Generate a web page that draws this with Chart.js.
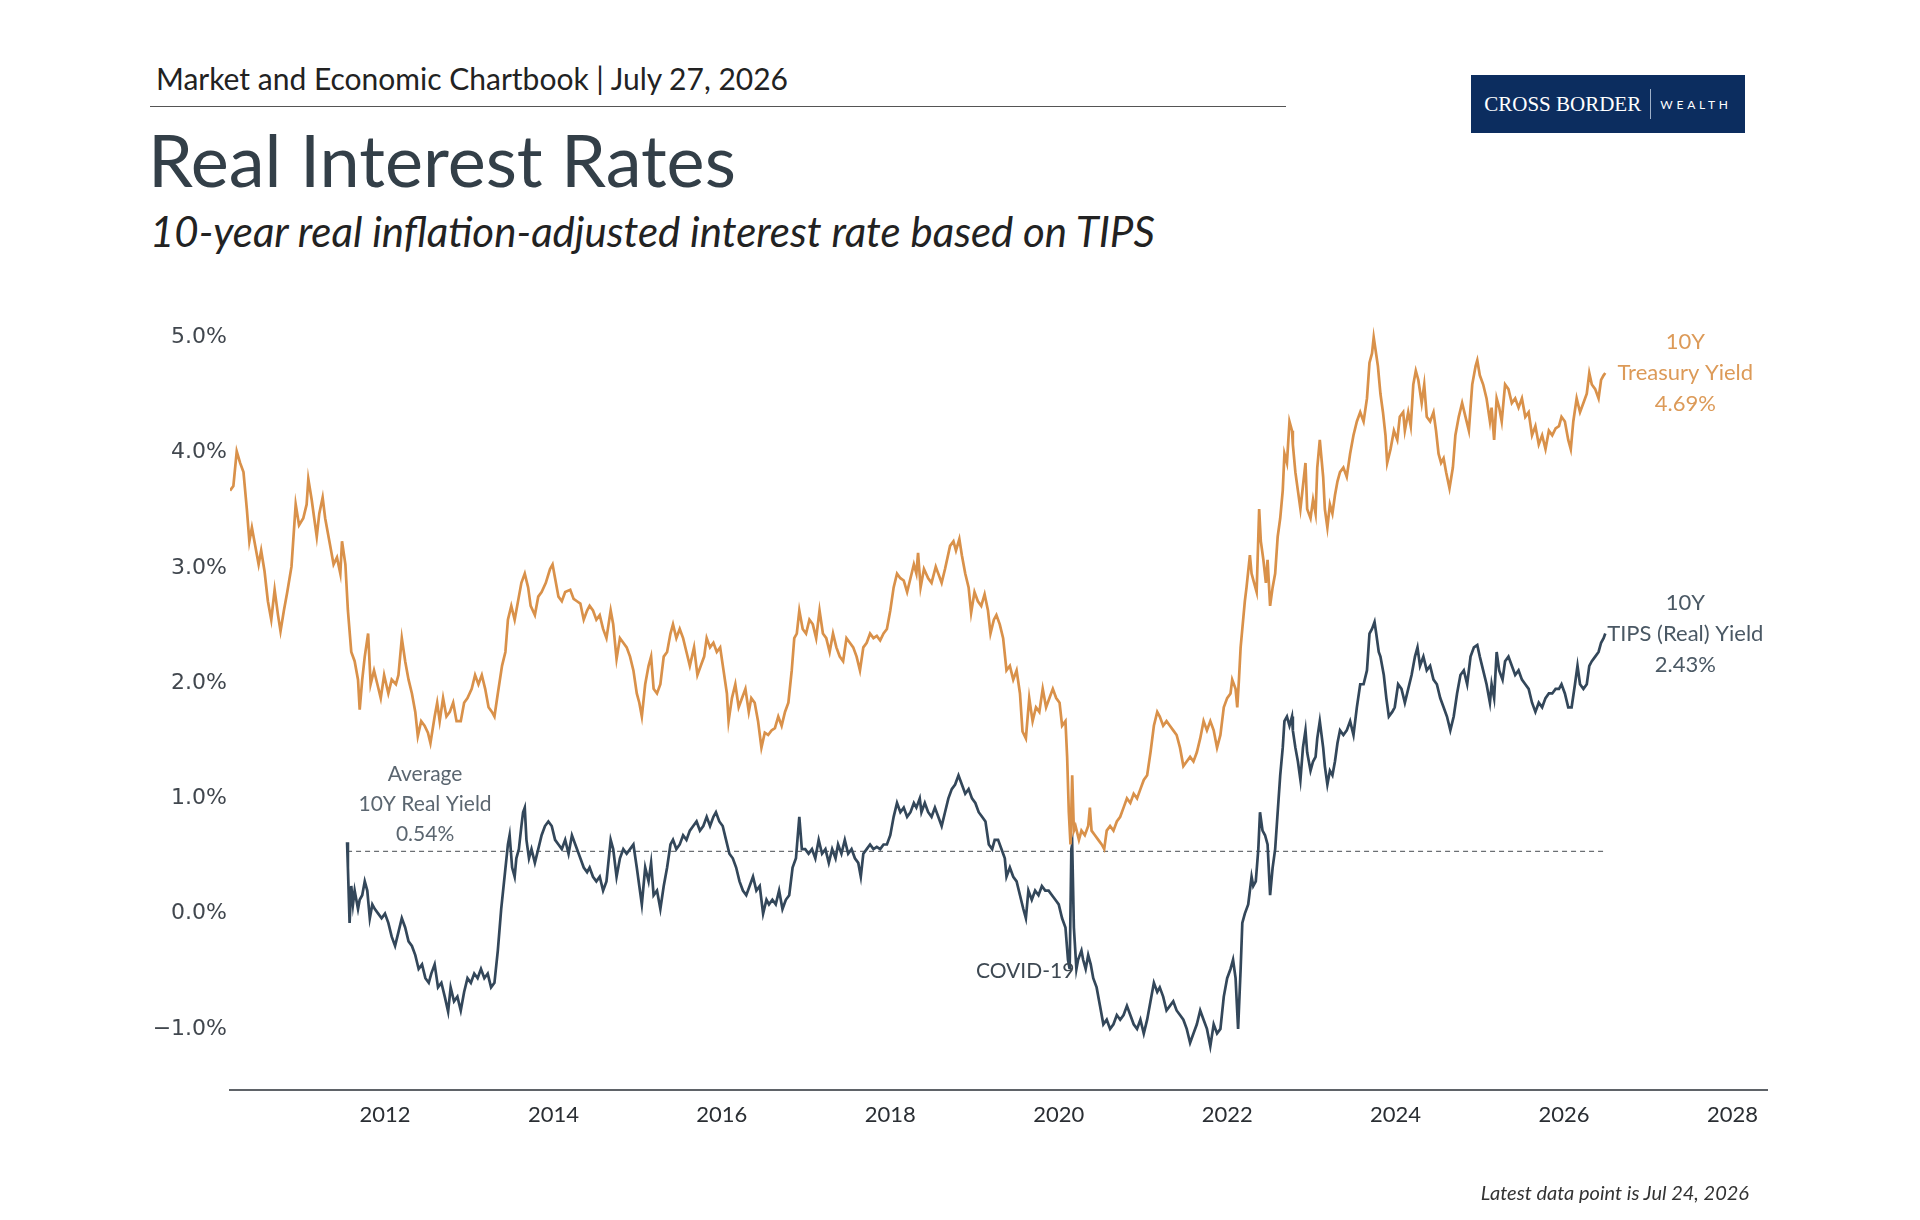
<!DOCTYPE html>
<html lang="en">
<head>
    <meta charset="UTF-8">
    <title>Real Interest Rates</title>
    <script src="https://cdn.jsdelivr.net/npm/chart.js"></script>
    <style>
        body {
            margin: 0;
            background: #fff;
            font-family: Lato, "Noto Sans", sans-serif;
            color: #333f48;
        }
        .page {
            position: relative;
            width: 1920px;
            height: 1220px;
            overflow: hidden;
        }
        .kicker {
            position: absolute;
            left: 156px;
            top: 60px;
            font-size: 30px;
            color: #222;
        }
        .rule {
            position: absolute;
            left: 150px;
            top: 106px;
            width: 1136px;
            height: 0;
            border-top: 1.5px solid #555;
        }
        h1 {
            position: absolute;
            left: 148px;
            top: 116px;
            margin: 0;
            font-weight: 400;
            font-size: 72px;
            color: #333f48;
        }
        .subtitle {
            position: absolute;
            left: 150px;
            top: 206px;
            font-size: 42px;
            font-style: italic;
            color: #222;
        }
        .logo {
            position: absolute;
            left: 1471px;
            top: 75px;
            width: 274px;
            height: 58px;
            background: #0c2d5f;
            color: #fff;
            display: flex;
            align-items: center;
            justify-content: center;
        }
        .logo .name {
            font-family: "Liberation Serif", "DejaVu Serif", serif;
            font-size: 21px;
        }
        .logo .bar {
            width: 1px;
            height: 30px;
            background: #9fb0c8;
            margin: 0 9px;
        }
        .logo .sub {
            font-size: 12px;
            letter-spacing: 3.8px;
        }
        .note {
            position: absolute;
            right: 171px;
            top: 1180px;
            font-size: 20px;
            font-style: italic;
            color: #333;
        }
        #chart {
            position: absolute;
            left: 0;
            top: 0;
        }
    </style>
</head>
<body>
<div class="page">
    <div class="kicker">Market and Economic Chartbook | July 27, 2026</div>
    <div class="rule"></div>
    <h1>Real Interest Rates</h1>
    <div class="subtitle">10-year real inflation-adjusted interest rate based on TIPS</div>
    <div class="logo"><span class="name">CROSS BORDER</span><span class="bar"></span><span class="sub">WEALTH</span></div>
    <canvas id="chart" width="1920" height="1220"></canvas>
    <div class="note">Latest data point is Jul 24, 2026</div>
</div>

<script>
// 10Y Treasury yield (%)
const treasuryYears = [
    2010.16, 2010.20, 2010.24, 2010.28, 2010.32, 2010.36, 2010.39, 2010.42, 2010.46, 2010.50, 2010.53, 2010.57, 2010.61, 2010.65, 2010.69, 2010.73, 2010.76, 2010.80, 2010.84, 2010.89, 2010.94, 2010.98,
    2011.03, 2011.07, 2011.09, 2011.13, 2011.16, 2011.19, 2011.22, 2011.26, 2011.29, 2011.34, 2011.39, 2011.43, 2011.47, 2011.49, 2011.53, 2011.56, 2011.60, 2011.64, 2011.68, 2011.70, 2011.73, 2011.76, 2011.80, 2011.83, 2011.87, 2011.91, 2011.95, 2011.99,
    2012.04, 2012.08, 2012.13, 2012.16, 2012.20, 2012.24, 2012.28, 2012.32, 2012.36, 2012.39, 2012.43, 2012.47, 2012.51, 2012.54, 2012.59, 2012.62, 2012.65, 2012.69, 2012.73, 2012.77, 2012.81, 2012.85, 2012.90, 2012.94, 2012.98,
    2013.03, 2013.07, 2013.11, 2013.15, 2013.19, 2013.23, 2013.27, 2013.30, 2013.34, 2013.39, 2013.43, 2013.46, 2013.50, 2013.54, 2013.58, 2013.62, 2013.66, 2013.70, 2013.73, 2013.78, 2013.82, 2013.86, 2013.91, 2013.96, 2013.99,
    2014.02, 2014.06, 2014.10, 2014.14, 2014.20, 2014.24, 2014.28, 2014.32, 2014.36, 2014.40, 2014.43, 2014.47, 2014.51, 2014.55, 2014.59, 2014.63, 2014.68, 2014.71, 2014.75, 2014.79, 2014.83, 2014.87, 2014.91, 2014.95, 2014.99,
    2015.02, 2015.05, 2015.09, 2015.13, 2015.16, 2015.19, 2015.23, 2015.27, 2015.31, 2015.35, 2015.39, 2015.42, 2015.46, 2015.50, 2015.54, 2015.58, 2015.62, 2015.67, 2015.71, 2015.75, 2015.79, 2015.82, 2015.86, 2015.90, 2015.94, 2015.98,
    2016.02, 2016.06, 2016.08, 2016.12, 2016.16, 2016.20, 2016.24, 2016.28, 2016.32, 2016.35, 2016.39, 2016.43, 2016.47, 2016.51, 2016.55, 2016.59, 2016.63, 2016.67, 2016.71, 2016.75, 2016.79, 2016.83, 2016.86, 2016.89, 2016.92, 2016.96,
    2017.00, 2017.04, 2017.08, 2017.12, 2017.16, 2017.20, 2017.24, 2017.28, 2017.32, 2017.36, 2017.40, 2017.44, 2017.48, 2017.52, 2017.56, 2017.60, 2017.64, 2017.68, 2017.72, 2017.76, 2017.80, 2017.84, 2017.88, 2017.92, 2017.96,
    2018.00, 2018.04, 2018.08, 2018.12, 2018.16, 2018.20, 2018.24, 2018.28, 2018.31, 2018.33, 2018.36, 2018.40, 2018.45, 2018.49, 2018.54, 2018.57, 2018.61, 2018.65, 2018.71, 2018.75, 2018.78, 2018.82, 2018.85, 2018.89, 2018.93, 2018.96,
    2019.00, 2019.04, 2019.08, 2019.12, 2019.16, 2019.19, 2019.23, 2019.26, 2019.30, 2019.34, 2019.38, 2019.42, 2019.46, 2019.50, 2019.54, 2019.57, 2019.61, 2019.65, 2019.69, 2019.73, 2019.77, 2019.81, 2019.85, 2019.89, 2019.93, 2019.97,
    2020.01, 2020.04, 2020.08, 2020.10, 2020.12, 2020.14, 2020.16, 2020.18, 2020.20, 2020.24, 2020.27, 2020.31, 2020.35, 2020.37, 2020.39, 2020.43, 2020.47, 2020.51, 2020.54, 2020.57, 2020.61, 2020.65, 2020.69, 2020.73, 2020.77, 2020.81, 2020.85, 2020.89, 2020.93, 2020.97,
    2021.01, 2021.05, 2021.09, 2021.13, 2021.17, 2021.20, 2021.24, 2021.28, 2021.32, 2021.36, 2021.40, 2021.44, 2021.48, 2021.52, 2021.56, 2021.60, 2021.64, 2021.68, 2021.72, 2021.76, 2021.80, 2021.84, 2021.88, 2021.92, 2021.96,
    2022.00, 2022.04, 2022.06, 2022.10, 2022.12, 2022.14, 2022.16, 2022.18, 2022.21, 2022.23, 2022.27, 2022.29, 2022.32, 2022.35, 2022.38, 2022.40, 2022.43, 2022.46, 2022.48, 2022.51, 2022.54, 2022.57, 2022.60, 2022.63, 2022.66, 2022.68, 2022.71, 2022.74, 2022.77, 2022.78, 2022.81, 2022.84, 2022.87, 2022.90, 2022.93, 2022.95, 2022.99,
    2023.02, 2023.05, 2023.07, 2023.10, 2023.14, 2023.16, 2023.19, 2023.22, 2023.25, 2023.28, 2023.31, 2023.34, 2023.38, 2023.42, 2023.46, 2023.50, 2023.54, 2023.58, 2023.62, 2023.66, 2023.69, 2023.72, 2023.74, 2023.76, 2023.79, 2023.82, 2023.85, 2023.88, 2023.90, 2023.94, 2023.98,
    2024.02, 2024.05, 2024.09, 2024.11, 2024.15, 2024.18, 2024.21, 2024.24, 2024.27, 2024.31, 2024.34, 2024.37, 2024.41, 2024.45, 2024.48, 2024.51, 2024.54, 2024.57, 2024.60, 2024.64, 2024.68, 2024.71, 2024.75, 2024.79, 2024.83, 2024.87, 2024.91, 2024.95, 2024.97,
    2025.00, 2025.04, 2025.08, 2025.12, 2025.14, 2025.17, 2025.20, 2025.23, 2025.26, 2025.30, 2025.34, 2025.38, 2025.42, 2025.46, 2025.50, 2025.54, 2025.58, 2025.62, 2025.66, 2025.70, 2025.74, 2025.78, 2025.82, 2025.86, 2025.90, 2025.94, 2025.97,
    2026.01, 2026.05, 2026.08, 2026.11, 2026.15, 2026.19, 2026.23, 2026.27, 2026.30, 2026.33, 2026.37, 2026.41, 2026.44, 2026.47, 2026.49
];
const treasuryYield = [
    3.67, 3.71, 4.01, 3.91, 3.83, 3.51, 3.23, 3.35, 3.19, 3.03, 3.15, 2.97, 2.71, 2.55, 2.81, 2.59, 2.45, 2.63, 2.79, 3.01, 3.55, 3.37,
    3.43, 3.55, 3.77, 3.59, 3.43, 3.27, 3.47, 3.61, 3.43, 3.23, 3.03, 3.09, 2.95, 3.23, 3.03, 2.63, 2.27, 2.19, 2.03, 1.77, 2.03, 2.23, 2.43, 1.99, 2.11, 1.99, 1.87, 2.07,
    1.91, 2.03, 1.99, 2.07, 2.39, 2.19, 2.03, 1.91, 1.75, 1.54, 1.67, 1.63, 1.57, 1.48, 1.71, 1.83, 1.67, 1.87, 1.71, 1.75, 1.83, 1.67, 1.67, 1.83, 1.87,
    1.95, 2.07, 1.99, 2.07, 1.95, 1.79, 1.75, 1.71, 1.91, 2.15, 2.27, 2.55, 2.67, 2.55, 2.71, 2.87, 2.95, 2.83, 2.67, 2.59, 2.75, 2.79, 2.87, 2.99, 3.03,
    2.91, 2.75, 2.71, 2.79, 2.81, 2.73, 2.71, 2.69, 2.55, 2.63, 2.67, 2.63, 2.55, 2.59, 2.47, 2.39, 2.63, 2.51, 2.21, 2.39, 2.35, 2.31, 2.23, 2.11, 1.91,
    1.83, 1.71, 1.99, 2.15, 2.23, 1.95, 1.91, 1.99, 2.23, 2.27, 2.43, 2.51, 2.39, 2.47, 2.39, 2.27, 2.15, 2.31, 2.07, 2.15, 2.23, 2.39, 2.31, 2.35, 2.27, 2.31,
    2.11, 1.91, 1.67, 1.87, 1.99, 1.79, 1.87, 1.95, 1.75, 1.87, 1.83, 1.67, 1.44, 1.57, 1.55, 1.59, 1.61, 1.71, 1.63, 1.75, 1.83, 2.11, 2.39, 2.43, 2.63, 2.47,
    2.43, 2.55, 2.51, 2.39, 2.63, 2.43, 2.39, 2.27, 2.43, 2.31, 2.23, 2.19, 2.39, 2.35, 2.31, 2.23, 2.11, 2.31, 2.35, 2.43, 2.39, 2.41, 2.37, 2.43, 2.47,
    2.63, 2.83, 2.95, 2.91, 2.89, 2.79, 2.91, 3.03, 2.95, 3.13, 2.83, 2.99, 2.91, 2.87, 3.01, 2.95, 2.87, 2.99, 3.19, 3.23, 3.15, 3.25, 3.11, 2.95, 2.83, 2.61,
    2.79, 2.71, 2.67, 2.77, 2.63, 2.43, 2.55, 2.59, 2.51, 2.39, 2.11, 2.15, 2.03, 2.11, 1.91, 1.58, 1.52, 1.87, 1.67, 1.79, 1.75, 1.95, 1.79, 1.87, 1.95, 1.87,
    1.83, 1.63, 1.67, 1.36, 0.88, 0.60, 1.20, 0.72, 0.76, 0.64, 0.72, 0.68, 0.76, 0.92, 0.72, 0.68, 0.64, 0.60, 0.56, 0.72, 0.76, 0.72, 0.80, 0.84, 0.92, 1.00, 0.96, 1.04, 1.00, 1.08,
    1.16, 1.20, 1.40, 1.63, 1.75, 1.71, 1.63, 1.67, 1.63, 1.59, 1.55, 1.44, 1.28, 1.32, 1.36, 1.32, 1.40, 1.52, 1.67, 1.59, 1.67, 1.59, 1.44, 1.55, 1.79,
    1.87, 1.91, 2.03, 1.95, 1.79, 2.03, 2.31, 2.47, 2.71, 2.83, 3.11, 2.95, 2.87, 2.79, 3.51, 3.23, 3.07, 2.87, 3.07, 2.67, 2.83, 2.95, 3.27, 3.43, 3.67, 3.99, 3.91, 4.27, 4.19, 4.07, 3.83, 3.67, 3.51, 3.71, 3.91, 3.51, 3.43,
    3.59, 3.47, 3.87, 4.11, 3.79, 3.51, 3.35, 3.55, 3.47, 3.63, 3.75, 3.83, 3.87, 3.79, 3.99, 4.15, 4.27, 4.35, 4.27, 4.47, 4.78, 4.86, 5.00, 4.90, 4.75, 4.51, 4.35, 4.15, 3.91, 4.03, 4.19,
    4.11, 4.31, 4.35, 4.19, 4.35, 4.23, 4.59, 4.71, 4.63, 4.43, 4.59, 4.31, 4.27, 4.35, 4.19, 3.99, 3.91, 3.95, 3.83, 3.69, 3.87, 4.15, 4.31, 4.43, 4.31, 4.19, 4.59, 4.75, 4.80,
    4.67, 4.59, 4.47, 4.27, 4.39, 4.11, 4.47, 4.39, 4.27, 4.59, 4.55, 4.43, 4.47, 4.39, 4.47, 4.31, 4.35, 4.15, 4.23, 4.07, 4.15, 4.03, 4.19, 4.15, 4.21, 4.23, 4.31,
    4.27, 4.11, 4.03, 4.27, 4.47, 4.35, 4.43, 4.51, 4.69, 4.59, 4.55, 4.47, 4.63, 4.67, 4.69
];

// 10Y TIPS (real) yield (%)
const tipsYears = [
    2011.55, 2011.56, 2011.58, 2011.60, 2011.62, 2011.64, 2011.68, 2011.70, 2011.73, 2011.76, 2011.79, 2011.82, 2011.85, 2011.88, 2011.92, 2011.96,
    2012.00, 2012.04, 2012.08, 2012.12, 2012.16, 2012.20, 2012.24, 2012.28, 2012.32, 2012.36, 2012.40, 2012.44, 2012.48, 2012.52, 2012.55, 2012.59, 2012.63, 2012.67, 2012.71, 2012.75, 2012.78, 2012.82, 2012.86, 2012.90, 2012.94, 2012.98,
    2013.02, 2013.06, 2013.10, 2013.14, 2013.18, 2013.22, 2013.26, 2013.30, 2013.34, 2013.38, 2013.42, 2013.46, 2013.48, 2013.51, 2013.54, 2013.56, 2013.59, 2013.62, 2013.64, 2013.66, 2013.68, 2013.71, 2013.74, 2013.78, 2013.82, 2013.86, 2013.90, 2013.94, 2013.98,
    2014.02, 2014.06, 2014.10, 2014.14, 2014.18, 2014.22, 2014.26, 2014.32, 2014.36, 2014.40, 2014.43, 2014.47, 2014.51, 2014.55, 2014.59, 2014.63, 2014.68, 2014.71, 2014.75, 2014.79, 2014.83, 2014.87, 2014.91, 2014.95, 2014.99,
    2015.02, 2015.05, 2015.09, 2015.13, 2015.16, 2015.19, 2015.23, 2015.27, 2015.31, 2015.35, 2015.39, 2015.42, 2015.46, 2015.50, 2015.54, 2015.58, 2015.62, 2015.66, 2015.70, 2015.74, 2015.78, 2015.82, 2015.86, 2015.90, 2015.93, 2015.97,
    2016.01, 2016.05, 2016.09, 2016.13, 2016.17, 2016.21, 2016.25, 2016.29, 2016.33, 2016.37, 2016.41, 2016.45, 2016.49, 2016.53, 2016.56, 2016.60, 2016.64, 2016.68, 2016.72, 2016.76, 2016.80, 2016.84, 2016.88, 2016.92, 2016.95, 2016.99,
    2017.03, 2017.07, 2017.11, 2017.15, 2017.19, 2017.23, 2017.27, 2017.31, 2017.35, 2017.38, 2017.42, 2017.46, 2017.50, 2017.54, 2017.58, 2017.62, 2017.65, 2017.68, 2017.72, 2017.76, 2017.80, 2017.84, 2017.88, 2017.92, 2017.96,
    2018.00, 2018.04, 2018.08, 2018.12, 2018.16, 2018.20, 2018.24, 2018.28, 2018.31, 2018.35, 2018.37, 2018.41, 2018.45, 2018.49, 2018.53, 2018.57, 2018.61, 2018.65, 2018.69, 2018.73, 2018.77, 2018.81, 2018.85, 2018.89, 2018.93, 2018.97,
    2019.01, 2019.05, 2019.09, 2019.13, 2019.17, 2019.21, 2019.24, 2019.28, 2019.32, 2019.36, 2019.38, 2019.42, 2019.46, 2019.50, 2019.54, 2019.58, 2019.61, 2019.64, 2019.68, 2019.72, 2019.76, 2019.80, 2019.84, 2019.88, 2019.92, 2019.96,
    2020.00, 2020.04, 2020.08, 2020.11, 2020.13, 2020.15, 2020.16, 2020.18, 2020.19, 2020.21, 2020.23, 2020.27, 2020.29, 2020.32, 2020.35, 2020.38, 2020.41, 2020.45, 2020.49, 2020.53, 2020.57, 2020.61, 2020.65, 2020.69, 2020.73, 2020.77, 2020.81, 2020.85, 2020.89, 2020.93, 2020.97,
    2021.01, 2021.05, 2021.09, 2021.13, 2021.17, 2021.20, 2021.24, 2021.28, 2021.32, 2021.36, 2021.40, 2021.44, 2021.48, 2021.52, 2021.56, 2021.60, 2021.64, 2021.68, 2021.72, 2021.76, 2021.80, 2021.84, 2021.88, 2021.92, 2021.96,
    2022.00, 2022.04, 2022.07, 2022.10, 2022.13, 2022.16, 2022.18, 2022.21, 2022.25, 2022.29, 2022.31, 2022.34, 2022.37, 2022.39, 2022.42, 2022.45, 2022.48, 2022.51, 2022.54, 2022.57, 2022.60, 2022.63, 2022.66, 2022.68, 2022.71, 2022.74, 2022.77, 2022.78, 2022.81, 2022.84, 2022.87, 2022.90, 2022.93, 2022.95, 2022.99,
    2023.02, 2023.05, 2023.07, 2023.10, 2023.14, 2023.16, 2023.19, 2023.22, 2023.25, 2023.28, 2023.31, 2023.34, 2023.38, 2023.42, 2023.46, 2023.50, 2023.54, 2023.58, 2023.62, 2023.66, 2023.69, 2023.72, 2023.75, 2023.77, 2023.80, 2023.82, 2023.86, 2023.89, 2023.92, 2023.96, 2023.99,
    2024.03, 2024.07, 2024.11, 2024.15, 2024.19, 2024.23, 2024.26, 2024.29, 2024.33, 2024.37, 2024.41, 2024.45, 2024.49, 2024.53, 2024.57, 2024.61, 2024.65, 2024.69, 2024.73, 2024.77, 2024.81, 2024.85, 2024.89, 2024.93, 2024.97,
    2025.00, 2025.04, 2025.08, 2025.12, 2025.14, 2025.17, 2025.20, 2025.23, 2025.27, 2025.30, 2025.34, 2025.38, 2025.42, 2025.46, 2025.50, 2025.54, 2025.58, 2025.62, 2025.66, 2025.70, 2025.74, 2025.78, 2025.82, 2025.86, 2025.90, 2025.94, 2025.97,
    2026.01, 2026.05, 2026.09, 2026.13, 2026.16, 2026.19, 2026.23, 2026.27, 2026.30, 2026.33, 2026.37, 2026.41, 2026.44, 2026.47, 2026.49
];
const tipsYield = [
    0.62, 0.40, -0.08, 0.24, 0.08, 0.20, 0.04, 0.12, 0.16, 0.28, 0.20, -0.04, 0.08, 0.04, 0.00, -0.04,
    0.00, -0.08, -0.20, -0.28, -0.16, -0.04, -0.12, -0.24, -0.28, -0.36, -0.48, -0.44, -0.56, -0.60, -0.52, -0.44, -0.64, -0.60, -0.72, -0.85, -0.64, -0.76, -0.72, -0.84, -0.68, -0.56,
    -0.60, -0.52, -0.56, -0.48, -0.56, -0.52, -0.64, -0.60, -0.32, 0.04, 0.32, 0.60, 0.68, 0.40, 0.32, 0.48, 0.56, 0.76, 0.88, 0.92, 0.64, 0.48, 0.56, 0.44, 0.56, 0.68, 0.76, 0.80, 0.76,
    0.64, 0.60, 0.56, 0.64, 0.52, 0.68, 0.60, 0.48, 0.40, 0.36, 0.40, 0.32, 0.28, 0.32, 0.20, 0.28, 0.64, 0.56, 0.32, 0.48, 0.56, 0.52, 0.56, 0.60, 0.40,
    0.24, 0.08, 0.40, 0.28, 0.44, 0.16, 0.20, 0.04, 0.24, 0.40, 0.60, 0.64, 0.56, 0.60, 0.68, 0.64, 0.72, 0.76, 0.80, 0.72, 0.76, 0.84, 0.76, 0.84, 0.88, 0.80,
    0.76, 0.64, 0.52, 0.48, 0.40, 0.28, 0.20, 0.16, 0.24, 0.32, 0.20, 0.24, 0.00, 0.12, 0.08, 0.12, 0.08, 0.20, 0.04, 0.12, 0.16, 0.40, 0.48, 0.84, 0.56, 0.56,
    0.52, 0.56, 0.48, 0.64, 0.52, 0.56, 0.44, 0.56, 0.48, 0.60, 0.52, 0.64, 0.52, 0.56, 0.48, 0.44, 0.32, 0.52, 0.56, 0.60, 0.56, 0.58, 0.56, 0.60, 0.60,
    0.68, 0.84, 0.96, 0.88, 0.92, 0.84, 0.88, 0.96, 0.92, 1.00, 0.88, 0.96, 0.88, 0.84, 0.92, 0.84, 0.76, 0.88, 1.00, 1.08, 1.12, 1.20, 1.12, 1.04, 1.08, 1.00,
    0.96, 0.88, 0.84, 0.80, 0.60, 0.56, 0.64, 0.64, 0.56, 0.48, 0.32, 0.40, 0.32, 0.28, 0.16, 0.04, -0.04, 0.20, 0.12, 0.20, 0.16, 0.24, 0.20, 0.20, 0.16, 0.12,
    0.08, -0.04, -0.12, -0.40, -0.48, 0.56, 0.60, -0.12, -0.24, -0.48, -0.40, -0.32, -0.40, -0.48, -0.36, -0.44, -0.56, -0.64, -0.80, -0.96, -0.92, -1.00, -0.96, -0.88, -0.92, -0.88, -0.80, -0.88, -0.96, -1.00, -0.92,
    -1.04, -0.92, -0.76, -0.60, -0.68, -0.64, -0.72, -0.84, -0.80, -0.76, -0.84, -0.88, -0.92, -1.00, -1.12, -1.04, -0.96, -0.84, -0.92, -1.00, -1.15, -0.96, -1.04, -1.00, -0.72,
    -0.56, -0.48, -0.40, -0.56, -1.00, -0.48, -0.08, 0.00, 0.08, 0.32, 0.24, 0.28, 0.56, 0.88, 0.72, 0.68, 0.60, 0.16, 0.40, 0.56, 0.88, 1.20, 1.44, 1.67, 1.71, 1.63, 1.71, 1.59, 1.44, 1.32, 1.16, 1.44, 1.59, 1.40, 1.24,
    1.32, 1.36, 1.52, 1.67, 1.44, 1.28, 1.12, 1.24, 1.20, 1.32, 1.48, 1.59, 1.55, 1.59, 1.67, 1.55, 1.79, 1.99, 1.99, 2.11, 2.43, 2.47, 2.53, 2.43, 2.27, 2.23, 2.07, 1.87, 1.71, 1.75, 1.79,
    1.99, 1.95, 1.83, 1.95, 2.07, 2.23, 2.31, 2.15, 2.23, 2.11, 2.15, 2.03, 1.99, 1.87, 1.79, 1.71, 1.59, 1.71, 1.91, 2.07, 2.11, 1.99, 2.23, 2.31, 2.33,
    2.23, 2.11, 1.99, 1.83, 1.99, 1.87, 2.27, 2.11, 2.03, 2.19, 2.23, 2.15, 2.07, 2.11, 2.03, 1.99, 1.95, 1.83, 1.75, 1.83, 1.79, 1.87, 1.91, 1.91, 1.95, 1.95, 1.99,
    1.91, 1.79, 1.79, 1.99, 2.15, 1.99, 1.95, 1.99, 2.15, 2.19, 2.23, 2.27, 2.35, 2.39, 2.43
];

const avgRealYield = 0.54;
const xTicks = [2012, 2014, 2016, 2018, 2020, 2022, 2024, 2026, 2028];
const yTicks = [-1, 0, 1, 2, 3, 4, 5];

const orange = '#d9914a';
const slate = '#33475a';

const toPoints = (xs, ys) => xs.map((x, i) => ({ x: x, y: ys[i] }));

// text labels drawn next to the lines
const labelPlugin = {
    id: 'labels',
    afterDatasetsDraw(chart) {
        const ctx = chart.ctx;
        const x = chart.scales.x, y = chart.scales.y;
        ctx.save();
        ctx.textAlign = 'center';
        ctx.textBaseline = 'middle';

        ctx.font = '22px Lato, "Noto Sans", sans-serif';
        const tEnd = treasuryYears.length - 1;
        const tx = x.getPixelForValue(treasuryYears[tEnd]) + 80;
        const ty = y.getPixelForValue(treasuryYield[tEnd]);
        ctx.fillStyle = '#dc9a58';
        ['10Y', 'Treasury Yield', treasuryYield[tEnd].toFixed(2) + '%'].forEach((s, i) => {
            ctx.fillText(s, tx, ty + (i - 1) * 31);
        });

        const rEnd = tipsYears.length - 1;
        const rx = x.getPixelForValue(tipsYears[rEnd]) + 80;
        const ry = y.getPixelForValue(tipsYield[rEnd]);
        ctx.fillStyle = '#4a5864';
        ['10Y', 'TIPS (Real) Yield', tipsYield[rEnd].toFixed(2) + '%'].forEach((s, i) => {
            ctx.fillText(s, rx, ry + (i - 1) * 31);
        });

        ctx.font = '21px Lato, "Noto Sans", sans-serif';
        const ax = x.getPixelForValue(tipsYears[0]) + 78;
        const ay = y.getPixelForValue(avgRealYield);
        ctx.fillStyle = '#5b6670';
        ['Average', '10Y Real Yield', avgRealYield.toFixed(2) + '%'].forEach((s, i) => {
            ctx.fillText(s, ax, ay - 77 + i * 30);
        });

        ctx.fillStyle = '#3d4852';
        ctx.textAlign = 'right';
        ctx.fillText('COVID-19', x.getPixelForValue(2020.15) + 3, y.getPixelForValue(-0.5));
        ctx.restore();
    }
};

new Chart(document.getElementById('chart'), {
    type: 'line',
    data: {
        datasets: [
            {
                data: toPoints(treasuryYears, treasuryYield),
                borderColor: orange,
                borderWidth: 2.7
            },
            {
                data: toPoints(tipsYears, tipsYield),
                borderColor: slate,
                borderWidth: 2.7
            },
            {
                data: [
                    { x: tipsYears[0], y: avgRealYield },
                    { x: tipsYears[tipsYears.length - 1], y: avgRealYield }
                ],
                borderColor: '#6b6f73',
                borderWidth: 1.4,
                borderDash: [5, 4]
            }
        ]
    },
    options: {
        responsive: false,
        animation: false,
        devicePixelRatio: 1,
        elements: { point: { radius: 0 }, line: { tension: 0 } },
        layout: { padding: { left: 150, right: 153, top: 320, bottom: 90 } },
        plugins: { legend: { display: false }, tooltip: { enabled: false } },
        scales: {
            x: {
                type: 'linear',
                min: 2010.16,
                max: 2028.41,
                afterFit: s => { s.height = 40; },
                afterBuildTicks: s => { s.ticks = xTicks.map(v => ({ value: v })); },
                grid: { display: false, drawTicks: false },
                border: { display: true, color: '#5f6368', width: 2 },
                ticks: {
                    padding: 12,
                    color: '#2a2e33',
                    font: { family: 'Lato', size: 22 },
                    callback: v => String(v)
                }
            },
            y: {
                min: -1.53,
                max: 5.15,
                afterFit: s => { s.width = 80; },
                afterBuildTicks: s => { s.ticks = yTicks.map(v => ({ value: v })); },
                grid: { display: false, drawTicks: false },
                border: { display: false },
                ticks: {
                    padding: 3,
                    color: '#41474e',
                    font: { family: '"DejaVu Sans"', size: 22 },
                    callback: v => (v < 0 ? '\u2212' : '') + Math.abs(v).toFixed(1) + '%'
                }
            }
        }
    },
    plugins: [labelPlugin]
});
</script>
</body>
</html>
